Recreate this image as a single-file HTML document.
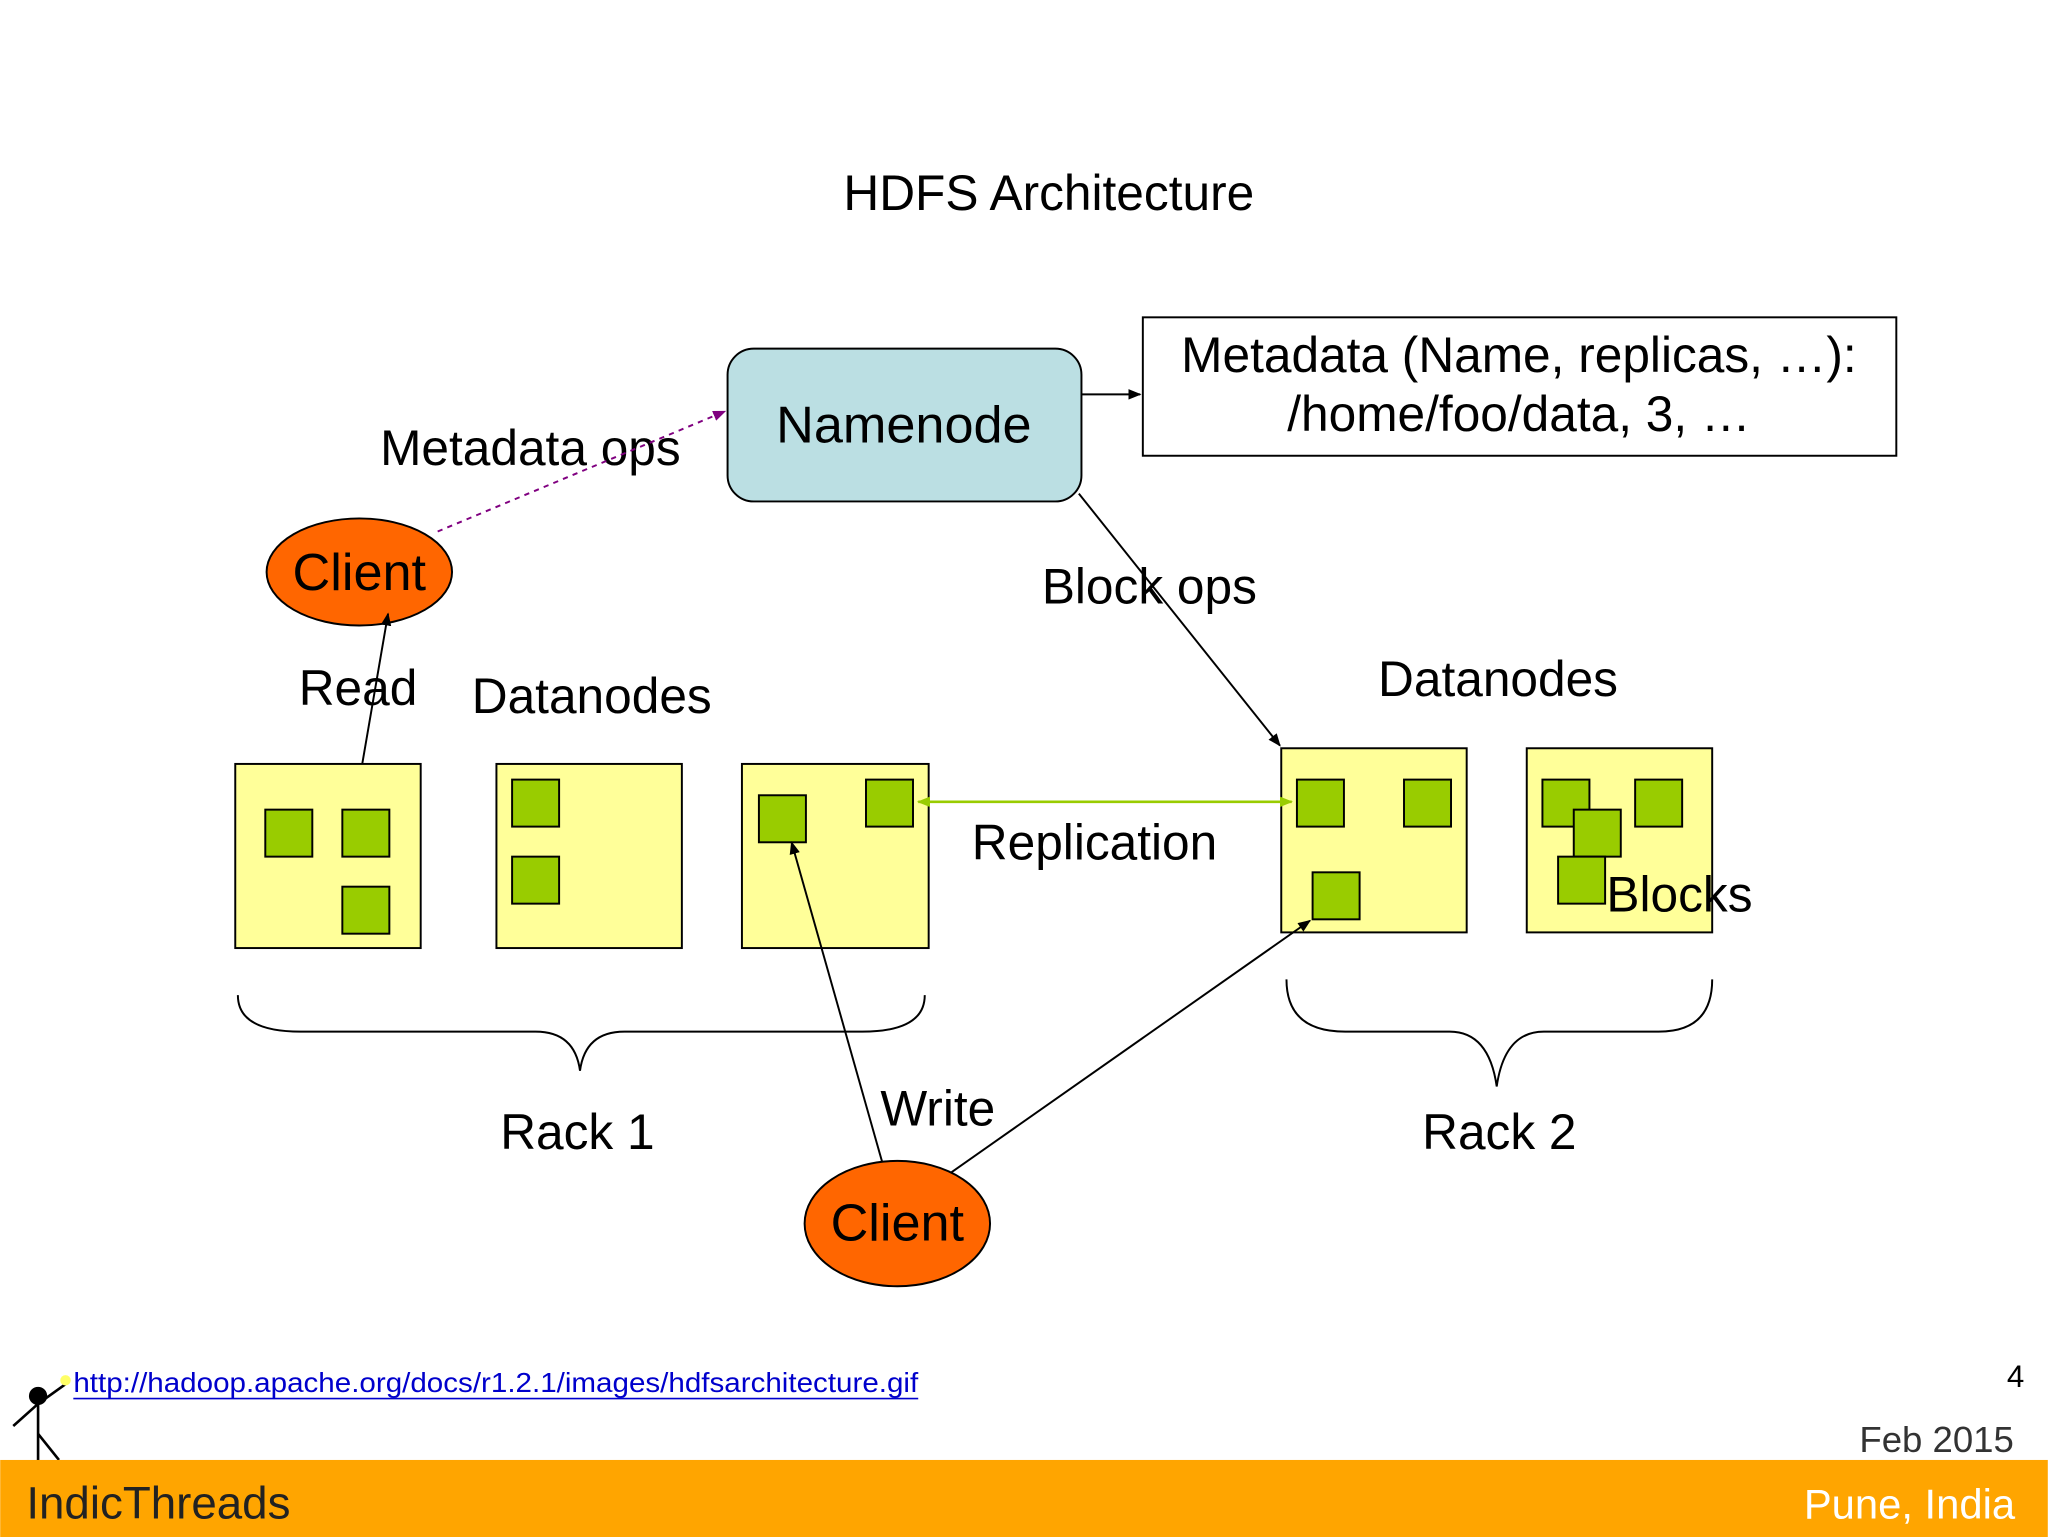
<!DOCTYPE html>
<html><head><meta charset="utf-8"><style>
html,body{margin:0;padding:0;background:#fff;}
svg{display:block;}
text{font-family:"Liberation Sans",Arial,sans-serif;fill:#000;}
</style></head><body>
<svg width="2048" height="1537" viewBox="0 0 1568 1177" xmlns="http://www.w3.org/2000/svg">
<defs>
<marker id="a" markerWidth="10" markerHeight="8" refX="9" refY="4" orient="auto" markerUnits="userSpaceOnUse"><path d="M0,0 L10,4 L0,8 z" fill="#000"/></marker>
<marker id="p" markerWidth="10" markerHeight="8" refX="9" refY="4" orient="auto" markerUnits="userSpaceOnUse"><path d="M0,0 L10,4 L0,8 z" fill="#800080"/></marker>
<marker id="g" markerWidth="10" markerHeight="8" refX="9" refY="4" orient="auto" markerUnits="userSpaceOnUse"><path d="M0,0 L10,4 L0,8 z" fill="#99cc00"/></marker>
<marker id="gs" markerWidth="10" markerHeight="8" refX="1" refY="4" orient="auto" markerUnits="userSpaceOnUse"><path d="M10,0 L0,4 L10,8 z" fill="#99cc00"/></marker>
</defs>
<rect width="1568" height="1177" fill="#fff"/>
<text x="803" y="161" font-size="38" text-anchor="middle">HDFS Architecture</text>

<rect x="557" y="267" width="271" height="117" rx="20" fill="#bbdfe3" stroke="#000" stroke-width="1.5"/>
<text x="692" y="339" font-size="40" text-anchor="middle">Namenode</text>
<rect x="875" y="243" width="577" height="106" fill="#fff" stroke="#000" stroke-width="1.5"/>
<text x="1163" y="285" font-size="38" text-anchor="middle">Metadata (Name, replicas, …):</text>
<text x="1163" y="330" font-size="38" text-anchor="middle">/home/foo/data, 3, …</text>
<line x1="828" y1="302" x2="873" y2="302" stroke="#000" stroke-width="1.5" marker-end="url(#a)"/>

<text x="406" y="356" font-size="38" text-anchor="middle">Metadata ops</text>
<line x1="335" y1="407" x2="555" y2="315" stroke="#800080" stroke-width="1.5" stroke-dasharray="4,4" marker-end="url(#p)"/>
<text x="880" y="462" font-size="38" text-anchor="middle">Block ops</text>
<line x1="826" y1="378" x2="980" y2="571" stroke="#000" stroke-width="1.5" marker-end="url(#a)"/>

<ellipse cx="275" cy="438" rx="71" ry="41" fill="#ff6600" stroke="#000" stroke-width="1.5"/>
<text x="275" y="452" font-size="40" text-anchor="middle">Client</text>
<text x="274" y="540" font-size="38" text-anchor="middle">Read</text>
<line x1="275" y1="598" x2="297" y2="470" stroke="#000" stroke-width="1.5" marker-end="url(#a)"/>
<text x="453" y="546" font-size="38" text-anchor="middle">Datanodes</text>
<text x="1147" y="533" font-size="38" text-anchor="middle">Datanodes</text>

<g fill="#ffff99" stroke="#000" stroke-width="1.5">
<rect x="180" y="585" width="142" height="141"/>
<rect x="380" y="585" width="142" height="141"/>
<rect x="568" y="585" width="143" height="141"/>
<rect x="981" y="573" width="142" height="141"/>
<rect x="1169" y="573" width="142" height="141"/>
</g>
<g fill="#99cc00" stroke="#000" stroke-width="1.5">
<rect x="203" y="620" width="36" height="36"/><rect x="262" y="620" width="36" height="36"/><rect x="262" y="679" width="36" height="36"/>
<rect x="392" y="597" width="36" height="36"/><rect x="392" y="656" width="36" height="36"/>
<rect x="581" y="609" width="36" height="36"/><rect x="663" y="597" width="36" height="36"/>
<rect x="993" y="597" width="36" height="36"/><rect x="1075" y="597" width="36" height="36"/><rect x="1005" y="668" width="36" height="36"/>
<rect x="1181" y="597" width="36" height="36"/><rect x="1252" y="597" width="36" height="36"/><rect x="1205" y="620" width="36" height="36"/><rect x="1193" y="656" width="36" height="36"/>
</g>
<text x="1230" y="698" font-size="38">Blocks</text>

<line x1="703" y1="614" x2="989" y2="614" stroke="#99cc00" stroke-width="2" marker-start="url(#gs)" marker-end="url(#g)"/>
<text x="838" y="658" font-size="38" text-anchor="middle">Replication</text>

<path d="M182,762 Q182,790 230,790 L410,790 Q440,790 444,820 Q448,790 478,790 L660,790 Q708,790 708,762" fill="none" stroke="#000" stroke-width="1.5"/>
<path d="M985,750 Q985,790 1030,790 L1110,790 Q1140,790 1146,832 Q1152,790 1182,790 L1270,790 Q1311,790 1311,750" fill="none" stroke="#000" stroke-width="1.5"/>
<text x="442" y="880" font-size="38" text-anchor="middle">Rack 1</text>
<text x="1148" y="880" font-size="38" text-anchor="middle">Rack 2</text>

<text x="718" y="862" font-size="38" text-anchor="middle">Write</text>
<line x1="676" y1="892" x2="606" y2="645" stroke="#000" stroke-width="1.5" marker-end="url(#a)"/>
<line x1="728" y1="898" x2="1003" y2="705" stroke="#000" stroke-width="1.5" marker-end="url(#a)"/>
<ellipse cx="687" cy="937" rx="71" ry="48" fill="#ff6600" stroke="#000" stroke-width="1.5"/>
<text x="687" y="950" font-size="40" text-anchor="middle">Client</text>

<circle cx="29" cy="1069" r="7" fill="#000"/>
<line x1="29" y1="1069" x2="29" y2="1118" stroke="#000" stroke-width="2"/>
<line x1="29" y1="1098" x2="45" y2="1118" stroke="#000" stroke-width="2"/>
<line x1="29" y1="1075" x2="10" y2="1092" stroke="#000" stroke-width="2"/>
<line x1="29" y1="1075" x2="50" y2="1060" stroke="#000" stroke-width="2"/>
<circle cx="50" cy="1057" r="4" fill="#ffff66"/>
<text x="56" y="1066" font-size="21" textLength="647" lengthAdjust="spacingAndGlyphs" style="fill:#0000cc">http://hadoop.apache.org/docs/r1.2.1/images/hdfsarchitecture.gif</text>
<line x1="56" y1="1071" x2="703" y2="1071" stroke="#0000cc" stroke-width="1.2"/>
<text x="1550" y="1062" font-size="24" text-anchor="end">4</text>
<text x="1542" y="1112" font-size="28" text-anchor="end" style="fill:#333">Feb 2015</text>
<rect x="0" y="1118" width="1568" height="59" fill="#ffa500"/>
<text x="20" y="1163" font-size="35" style="fill:#222">IndicThreads</text>
<text x="1543" y="1163" font-size="32" text-anchor="end" style="fill:#fff">Pune, India</text>
</svg>
</body></html>
